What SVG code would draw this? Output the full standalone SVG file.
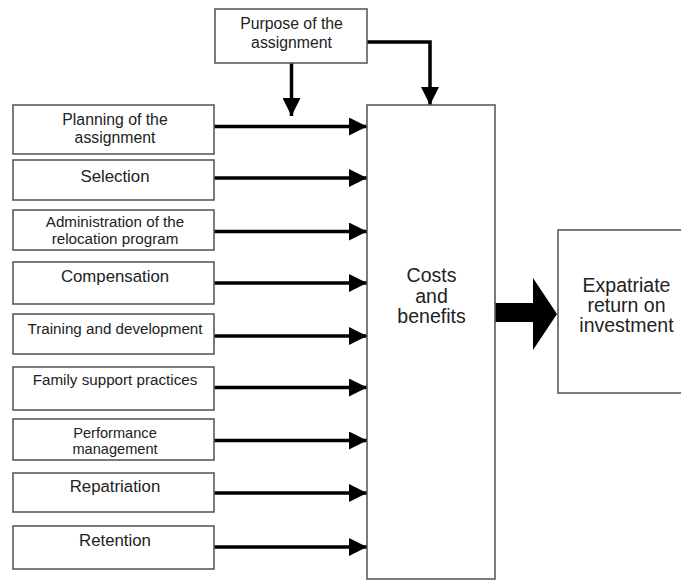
<svg xmlns="http://www.w3.org/2000/svg" width="681" height="580" viewBox="0 0 681 580">
<style>
.box{fill:#fff;stroke:#5a5a5a;stroke-width:1.6}
.t{font-family:"Liberation Sans",Arial,sans-serif;fill:#222;text-anchor:middle}
.s17{font-size:16.8px}
.s16{font-size:15.8px}
.s15{font-size:15.2px}
.s14{font-size:14.6px}
.big{font-size:19.5px}
.arr{stroke:#000;stroke-width:3.5;fill:none}
</style>
<defs>
<marker id="ah" markerUnits="userSpaceOnUse" markerWidth="18" markerHeight="18" refX="18" refY="9" orient="auto">
<path d="M0,0 L18,9 L0,18 z" fill="#000"/>
</marker>
</defs>
<rect width="681" height="580" fill="#fff"/>
<g id="connectors">
<line class="arr" x1="214" y1="126.5" x2="367" y2="126.5" marker-end="url(#ah)"/>
<line class="arr" x1="214" y1="178" x2="367" y2="178" marker-end="url(#ah)"/>
<line class="arr" x1="214" y1="231.5" x2="367" y2="231.5" marker-end="url(#ah)"/>
<line class="arr" x1="214" y1="283" x2="367" y2="283" marker-end="url(#ah)"/>
<line class="arr" x1="214" y1="336" x2="367" y2="336" marker-end="url(#ah)"/>
<line class="arr" x1="214" y1="387.5" x2="367" y2="387.5" marker-end="url(#ah)"/>
<line class="arr" x1="214" y1="440.5" x2="367" y2="440.5" marker-end="url(#ah)"/>
<line class="arr" x1="214" y1="493" x2="367" y2="493" marker-end="url(#ah)"/>
<line class="arr" x1="214" y1="547" x2="367" y2="547" marker-end="url(#ah)"/>
<line class="arr" x1="291.5" y1="63" x2="291.5" y2="116" marker-end="url(#ah)"/>
<polyline class="arr" points="367,42 430,42 430,105" marker-end="url(#ah)"/>
<polygon points="495,303 533,303 533,278 557,314 533,350 533,322 495,322" fill="#000"/>
</g>
<g id="purpose"><rect class="box" x="215" y="9" width="152" height="54"/>
<text class="t s16" x="291.5" y="29">Purpose of the</text><text class="t s16" x="291.5" y="47.5">assignment</text></g>
<g id="planning"><rect class="box" x="13" y="105" width="201" height="49"/>
<text class="t s16" x="115" y="124.5">Planning of the</text><text class="t s16" x="115" y="143">assignment</text></g>
<g id="selection"><rect class="box" x="13" y="160" width="201" height="40"/>
<text class="t s17" x="115" y="181.5">Selection</text></g>
<g id="administration"><rect class="box" x="13" y="210" width="201" height="40"/>
<text class="t s15" x="115" y="226.5">Administration of the</text><text class="t s15" x="115" y="243.5">relocation program</text></g>
<g id="compensation"><rect class="box" x="13" y="262" width="201" height="42"/>
<text class="t s17" x="115" y="281.5">Compensation</text></g>
<g id="training"><rect class="box" x="13" y="314" width="201" height="40"/>
<text class="t s15" x="115" y="333.5">Training and development</text></g>
<g id="family"><rect class="box" x="13" y="367" width="201" height="43"/>
<text class="t s15" x="115" y="385">Family support practices</text></g>
<g id="performance"><rect class="box" x="13" y="419" width="201" height="41"/>
<text class="t s14" x="115" y="437.5">Performance</text><text class="t s14" x="115" y="454">management</text></g>
<g id="repatriation"><rect class="box" x="13" y="473" width="201" height="39"/>
<text class="t s17" x="115" y="491.5">Repatriation</text></g>
<g id="retention"><rect class="box" x="13" y="526" width="201" height="43"/>
<text class="t s17" x="115" y="546">Retention</text></g>
<g id="costs"><rect class="box" x="367" y="105" width="128" height="474"/>
<text class="t big" x="431.5" y="282">Costs</text><text class="t big" x="431.5" y="302.5">and</text><text class="t big" x="431.5" y="323">benefits</text></g>
<g id="expatriate"><rect class="box" x="558" y="230" width="130" height="163"/>
<text class="t big" x="626.5" y="292">Expatriate</text><text class="t big" x="626.5" y="312">return on</text><text class="t big" x="626.5" y="332">investment</text></g>
</svg>
